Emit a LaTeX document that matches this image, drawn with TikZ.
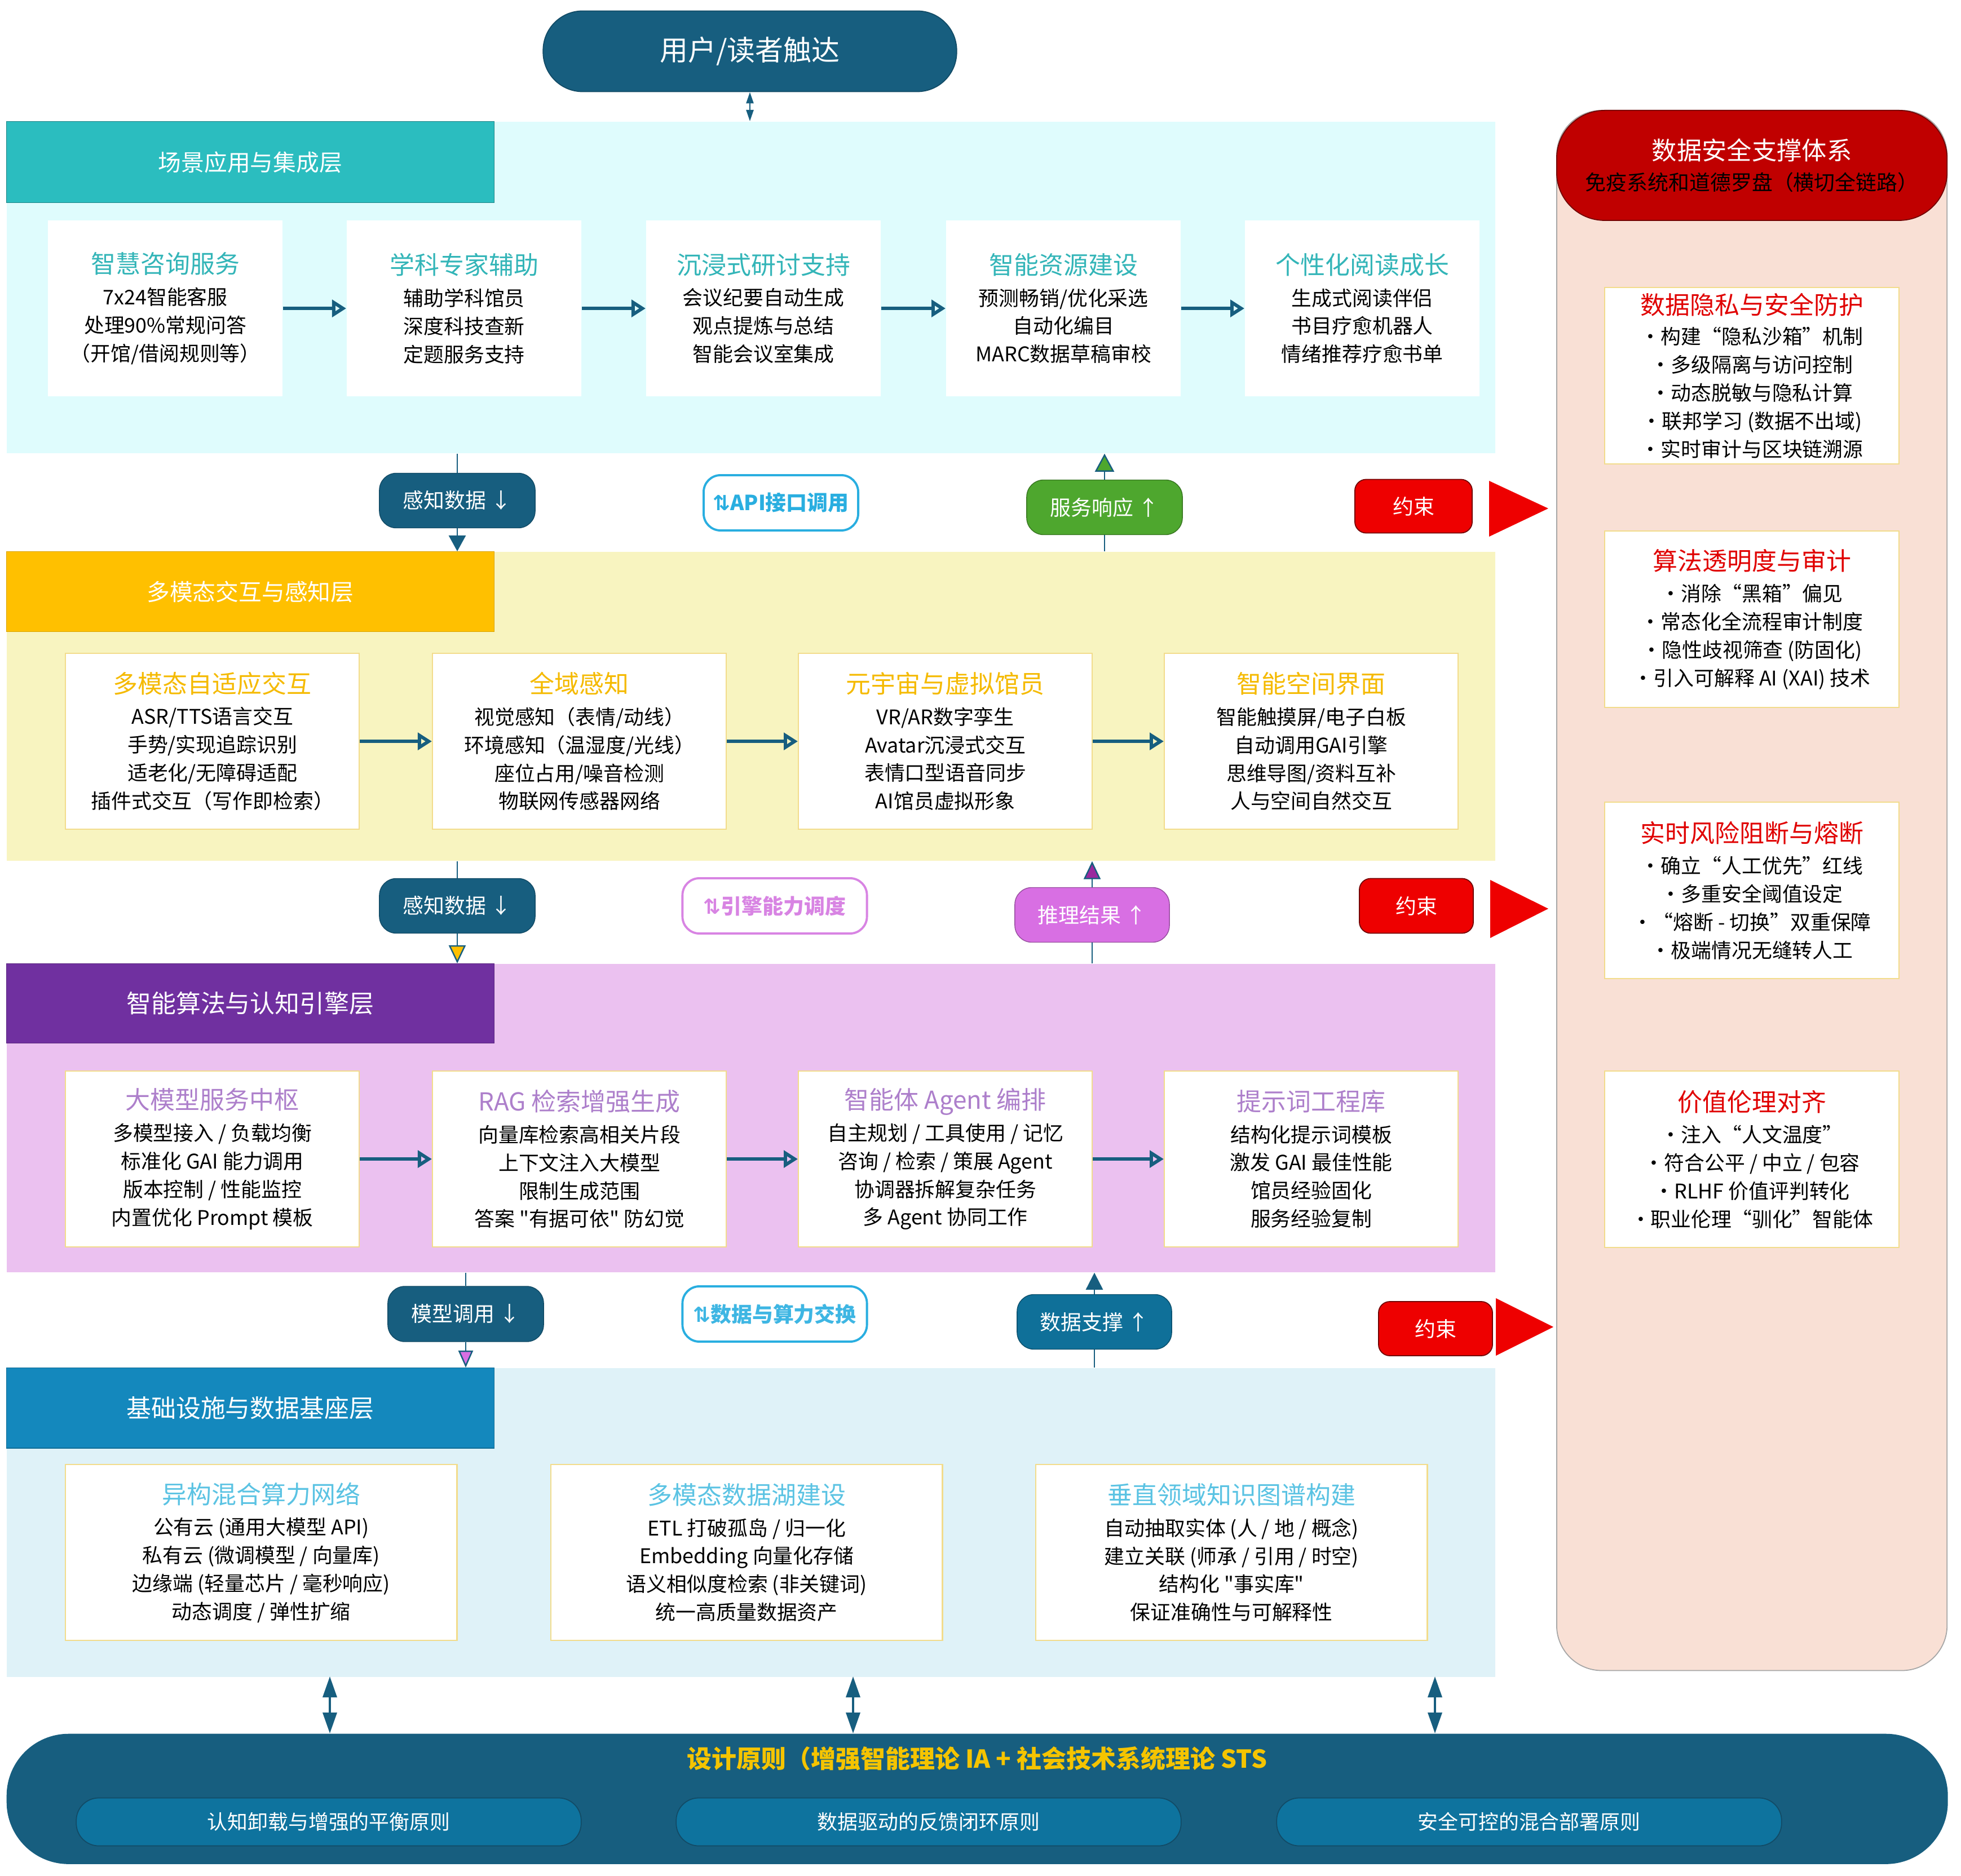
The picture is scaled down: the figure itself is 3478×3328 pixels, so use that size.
\documentclass[tikz,border=0pt]{standalone}
\usepackage{fontspec}
\setmainfont{Noto Sans CJK SC}
\newfontfamily\plainfont{Noto Sans CJK SC}
\newfontfamily\symfont{DejaVu Sans}
\usetikzlibrary{arrows.meta,shapes.geometric,calc}
\definecolor{dteal}{HTML}{175E7F}
\definecolor{lbga}{HTML}{DFFCFD}
\definecolor{lhda}{HTML}{2BBDBF}
\definecolor{ltta}{HTML}{33B5B8}
\definecolor{lbgb}{HTML}{F8F4C0}
\definecolor{lhdb}{HTML}{FFC000}
\definecolor{lttb}{HTML}{F5BA00}
\definecolor{lbgc}{HTML}{EBC1F0}
\definecolor{lhdc}{HTML}{7030A0}
\definecolor{lttc}{HTML}{AD7FCB}
\definecolor{lbgd}{HTML}{DFF2F8}
\definecolor{lhdd}{HTML}{1488BD}
\definecolor{lttd}{HTML}{5BC3E3}
\definecolor{cardbd}{HTML}{F2DC8C}
\definecolor{gpill}{HTML}{4EA72E}
\definecolor{vpill}{HTML}{D86FE3}
\definecolor{varrow}{HTML}{9A2A9E}
\definecolor{bpill}{HTML}{0F7099}
\definecolor{cred}{HTML}{EE0000}
\definecolor{dred}{HTML}{C00000}
\definecolor{pbg}{HTML}{F9E0D5}
\definecolor{ttred}{HTML}{E00000}
\definecolor{apiblue}{HTML}{29AEE0}
\definecolor{engviol}{HTML}{D884E3}
\definecolor{goldt}{HTML}{F5C400}
\definecolor{spill}{HTML}{0E739E}
\newcommand\fsBody{\fontsize{10.2pt}{14.2pt}\selectfont}
\newcommand\fsTitle{\fontsize{12.5pt}{15pt}\selectfont}
\newcommand\fsHead{\fontsize{11.6pt}{14pt}\selectfont}
\newcommand\fsHeadB{\fontsize{12.5pt}{15pt}\selectfont}
\newcommand\fsPill{\fontsize{10.5pt}{13pt}\selectfont}
\newcommand\fsTop{\fontsize{14.2pt}{17pt}\selectfont}
\newcommand\ttl[2]{{\fsTitle\color{#1}#2}}
\newcommand\sqt{{\plainfont "}}
\tikzset{
  layerbg/.style={anchor=north west, inner sep=0pt, minimum width=26.39cm},
  header/.style={anchor=north west, inner sep=0pt, minimum width=8.64cm, text=white, font=\fsHead},
  cardbox/.style={anchor=north west, inner sep=0pt, fill=white, draw=cardbd, line width=0.6pt, align=center, font=\fsBody, minimum height=3.12cm},
  pillbox/.style={rounded corners=0.3cm, inner sep=0pt, text=white, font=\fsPill, minimum width=2.76cm, minimum height=0.97cm},
  outpill/.style={rounded corners=0.3cm, inner sep=0pt, fill=white, line width=1.1pt, font=\fsPill\bfseries, minimum height=0.98cm},
  redbox/.style={rounded corners=0.2cm, inner sep=0pt, fill=cred, draw=dred!60!black, line width=0.5pt, text=white, font=\fsPill, minimum height=0.95cm},
  cardarrow/.style={draw=dteal, line width=1.7pt, -{Triangle[open, length=0.25cm, width=0.3cm]}},
  conn/.style={draw=dteal, line width=0.7pt},
  subpill/.style={rounded corners=0.4cm, inner sep=0pt, fill=spill, draw=dteal!80!black, line width=0.5pt, text=white, font=\fsBody, minimum width=8.95cm, minimum height=0.85cm}
}
\begin{document}
\begin{tikzpicture}[x=0.01cm, y=-0.01cm]
\useasboundingbox (0,0) rectangle (3478,3328);
\fill[white] (0,0) rectangle (3478,3328);

% top pill
\node[rounded corners=0.7cm, fill=dteal, draw=dteal!80!black, line width=0.5pt, text=white, font=\fsTop, minimum width=7.33cm, minimum height=1.43cm, inner sep=0pt] (U) at (1330,91) {用户/读者触达};

% layers
\node[layerbg, fill=lbga, minimum height=5.88cm] (L1) at (11,215) {};
\node[header, fill=lhda, draw=lhda!70!black, line width=0.4pt, minimum height=1.44cm] (H1) at (11,215) {场景应用与集成层};
\node[layerbg, fill=lbgb, minimum height=5.48cm] (L2) at (11,978) {};
\node[header, fill=lhdb, draw=lhdb!85!black, line width=0.4pt, minimum height=1.42cm] (H2) at (11,978) {多模态交互与感知层};
\node[layerbg, fill=lbgc, minimum height=5.47cm] (L3) at (11,1709) {};
\node[header, fill=lhdc, draw=lhdc!80!black, line width=0.4pt, minimum height=1.41cm, font=\fsHeadB] (H3) at (11,1709) {智能算法与认知引擎层};
\node[layerbg, fill=lbgd, minimum height=5.48cm] (L4) at (11,2426) {};
\node[header, fill=lhdd, draw=lhdd!80!black, line width=0.4pt, minimum height=1.42cm, font=\fsHeadB] (H4) at (11,2426) {基础设施与数据基座层};

\draw[conn, {Triangle[length=0.2cm, width=0.13cm]}-{Triangle[length=0.2cm, width=0.13cm]}] (U.south) -- (U.south |- L1.north);

% layer 1 cards
\tikzset{ca/.style={cardbox, draw=none, minimum width=4.16cm}}
\node[ca] (a1) at (84,390) {\ttl{ltta}{智慧咨询服务}\\[1.6pt]7x24智能客服\\处理90\%常规问答\\（开馆/借阅规则等）};
\node[ca] (a2) at (614,390) {\ttl{ltta}{学科专家辅助}\\[1.6pt]辅助学科馆员\\深度科技查新\\定题服务支持};
\node[ca] (a3) at (1145,390) {\ttl{ltta}{沉浸式研讨支持}\\[1.6pt]会议纪要自动生成\\观点提炼与总结\\智能会议室集成};
\node[ca] (a4) at (1677,390) {\ttl{ltta}{智能资源建设}\\[1.6pt]预测畅销/优化采选\\自动化编目\\MARC数据草稿审校};
\node[ca] (a5) at (2207,390) {\ttl{ltta}{个性化阅读成长}\\[1.6pt]生成式阅读伴侣\\书目疗愈机器人\\情绪推荐疗愈书单};
\draw[cardarrow] (a1.east) -- (a2.west);
\draw[cardarrow] (a2.east) -- (a3.west);
\draw[cardarrow] (a3.east) -- (a4.west);
\draw[cardarrow] (a4.east) -- (a5.west);

% layer 2 cards
\tikzset{cb/.style={cardbox, minimum width=5.21cm}}
\node[cb] (b1) at (115,1158) {\ttl{lttb}{多模态自适应交互}\\[1.6pt]ASR/TTS语言交互\\手势/实现追踪识别\\适老化/无障碍适配\\插件式交互（写作即检索）};
\node[cb] (b2) at (766,1158) {\ttl{lttb}{全域感知}\\[1.6pt]视觉感知（表情/动线）\\环境感知（温湿度/光线）\\座位占用/噪音检测\\物联网传感器网络};
\node[cb] (b3) at (1415,1158) {\ttl{lttb}{元宇宙与虚拟馆员}\\[1.6pt]VR/AR数字孪生\\Avatar沉浸式交互\\表情口型语音同步\\AI馆员虚拟形象};
\node[cb] (b4) at (2064,1158) {\ttl{lttb}{智能空间界面}\\[1.6pt]智能触摸屏/电子白板\\自动调用GAI引擎\\思维导图/资料互补\\人与空间自然交互};
\draw[cardarrow] (b1.east) -- (b2.west);
\draw[cardarrow] (b2.east) -- (b3.west);
\draw[cardarrow] (b3.east) -- (b4.west);

% layer 3 cards
\node[cb] (c1) at (115,1899) {\ttl{lttc}{大模型服务中枢}\\[1.6pt]多模型接入 / 负载均衡\\标准化 GAI 能力调用\\版本控制 / 性能监控\\内置优化 Prompt 模板};
\node[cb] (c2) at (766,1899) {\ttl{lttc}{RAG 检索增强生成}\\[1.6pt]向量库检索高相关片段\\上下文注入大模型\\限制生成范围\\答案 \sqt{}有据可依\sqt{} 防幻觉};
\node[cb] (c3) at (1415,1899) {\ttl{lttc}{智能体 Agent 编排}\\[1.6pt]自主规划 / 工具使用 / 记忆\\咨询 / 检索 / 策展 Agent\\协调器拆解复杂任务\\多 Agent 协同工作};
\node[cb] (c4) at (2064,1899) {\ttl{lttc}{提示词工程库}\\[1.6pt]结构化提示词模板\\激发 GAI 最佳性能\\馆员经验固化\\服务经验复制};
\draw[cardarrow] (c1.east) -- (c2.west);
\draw[cardarrow] (c2.east) -- (c3.west);
\draw[cardarrow] (c3.east) -- (c4.west);

% layer 4 cards
\tikzset{cd/.style={cardbox, minimum width=6.94cm}}
\node[cd] (d1) at (115,2597) {\ttl{lttd}{异构混合算力网络}\\[1.6pt]公有云 (通用大模型 API)\\私有云 (微调模型 / 向量库)\\边缘端 (轻量芯片 / 毫秒响应)\\动态调度 / 弹性扩缩};
\node[cd] (d2) at (976,2597) {\ttl{lttd}{多模态数据湖建设}\\[1.6pt]ETL 打破孤岛 / 归一化\\Embedding 向量化存储\\语义相似度检索 (非关键词)\\统一高质量数据资产};
\node[cd] (d3) at (1836,2597) {\ttl{lttd}{垂直领域知识图谱构建}\\[1.6pt]自动抽取实体 (人 / 地 / 概念)\\建立关联 (师承 / 引用 / 时空)\\结构化 \sqt{}事实库\sqt{}\\保证准确性与可解释性};

% between layer 1 and 2
\node[pillbox, fill=dteal, draw=dteal!80!black] (p1) at (811,888) {感知数据 ↓};
\node[outpill, draw=apiblue, text=apiblue, minimum width=2.74cm] (api) at (1385,892) {{\symfont ⇅}API接口调用};
\node[pillbox, fill=gpill, draw=gpill!70!black, minimum width=2.76cm] (g1) at (1959,900) {服务响应 ↑};
\node[redbox, minimum width=2.08cm] (r1) at (2507,898) {约束};
\fill[cred] (2641,853) -- (2746,902) -- (2641,952) -- cycle;
\draw[conn] (p1.north |- L1.south) -- (p1.north);
\draw[conn, -{Triangle[length=0.28cm, width=0.3cm]}] (p1.south) -- (p1.south |- L2.north);
\draw[conn] (g1.south |- L2.north) -- (g1.south);
\draw[conn, -{Triangle[length=0.32cm, width=0.34cm, fill=gpill]}] (g1.north) -- (g1.north |- L1.south);

% between layer 2 and 3
\node[pillbox, fill=dteal, draw=dteal!80!black] (p2) at (811,1607) {感知数据 ↓};
\node[outpill, draw=engviol, text=engviol, minimum width=3.27cm] (eng) at (1374,1607) {{\symfont ⇅}引擎能力调度};
\node[pillbox, fill=vpill, draw=vpill!70!black, minimum width=2.74cm] (v1) at (1937,1623) {推理结果 ↑};
\node[redbox, minimum width=2.02cm, minimum height=0.97cm] (r2) at (2512,1607) {约束};
\fill[cred] (2643,1561) -- (2746,1612) -- (2643,1664) -- cycle;
\draw[conn] (p2.north |- L2.south) -- (p2.north);
\draw[conn, -{Triangle[length=0.32cm, width=0.3cm, fill=lhdb]}] (p2.south) -- (p2.south |- L3.north);
\draw[conn] (v1.south |- L3.north) -- (v1.south);
\draw[conn, -{Triangle[length=0.32cm, width=0.3cm, fill=varrow]}] (v1.north) -- (v1.north |- L2.south);

% between layer 3 and 4
\node[pillbox, fill=dteal, draw=dteal!80!black, minimum height=0.98cm] (p3) at (826,2331) {模型调用 ↓};
\node[outpill, draw=apiblue, text=apiblue!90!white, minimum width=3.27cm] (xch) at (1374,2331) {{\symfont ⇅}数据与算力交换};
\node[pillbox, fill=bpill, draw=bpill!70!black, minimum width=2.74cm] (s1) at (1941,2345) {数据支撑 ↑};
\node[redbox, minimum width=2.02cm, minimum height=0.96cm] (r3) at (2546,2357) {约束};
\fill[cred] (2653,2303) -- (2755,2354) -- (2653,2405) -- cycle;
\draw[conn] (p3.north |- L3.south) -- (p3.north);
\draw[conn, -{Triangle[length=0.3cm, width=0.26cm, fill=vpill]}] (p3.south) -- (p3.south |- L4.north);
\draw[conn] (s1.south |- L4.north) -- (s1.south);
\draw[conn, -{Triangle[length=0.3cm, width=0.3cm]}] (s1.north) -- (s1.north |- L3.south);

% right panel
\node[anchor=north west, inner sep=0pt, fill=pbg, draw=gray!70, line width=0.5pt, rounded corners=0.8cm, minimum width=6.92cm, minimum height=27.66cm] (SP) at (2760,195) {};
\node[anchor=north west, inner sep=0pt, fill=dred, draw=dred!60!black, line width=0.5pt, rounded corners=0.85cm, minimum width=6.92cm, minimum height=1.95cm, align=center, font=\fontsize{10.5pt}{14.2pt}\selectfont] (SH) at (2760,195) {{\fontsize{12.6pt}{15pt}\selectfont\color{white}数据安全支撑体系}\\[1pt]{\color{black}免疫系统和道德罗盘（横切全链路）}};
\tikzset{cr/.style={cardbox, minimum width=5.22cm, minimum height=3.13cm}}
\node[cr] (e1) at (2845,509) {\ttl{ttred}{数据隐私与安全防护}\\[1pt]·构建“隐私沙箱”机制\\·多级隔离与访问控制\\·动态脱敏与隐私计算\\·联邦学习 (数据不出域)\\·实时审计与区块链溯源};
\node[cr] (e2) at (2845,941) {\ttl{ttred}{算法透明度与审计}\\[1.6pt]·消除“黑箱”偏见\\·常态化全流程审计制度\\·隐性歧视筛查 (防固化)\\·引入可解释 AI (XAI) 技术};
\node[cr] (e3) at (2845,1422) {\ttl{ttred}{实时风险阻断与熔断}\\[1.6pt]·确立“人工优先”红线\\·多重安全阈值设定\\·“熔断 - 切换”双重保障\\·极端情况无缝转人工};
\node[cr] (e4) at (2845,1899) {\ttl{ttred}{价值伦理对齐}\\[1.6pt]·注入“人文温度”\\·符合公平 / 中立 / 包容\\·RLHF 价值评判转化\\·职业伦理“驯化”智能体};

% design principles
\node[anchor=north west, inner sep=0pt, fill=dteal, rounded corners=1.1cm, minimum width=34.41cm, minimum height=2.31cm] (DP) at (11,3075) {};
\node[text=goldt, font=\fsTitle\bfseries, inner sep=0pt] (DT) at (1733,3120) {设计原则（增强智能理论 IA + 社会技术系统理论 STS};
\node[subpill] (q1) at (583,3232) {认知卸载与增强的平衡原则};
\node[subpill] (q2) at (1647,3232) {数据驱动的反馈闭环原则};
\node[subpill] (q3) at (2712,3232) {安全可控的混合部署原则};
\coordinate (k1) at (585,2974);
\coordinate (k2) at (1513,2974);
\coordinate (k3) at (2545,2974);
\foreach \k in {k1,k2,k3}
  \draw[conn, line width=1pt, {Triangle[length=0.37cm, width=0.25cm]}-{Triangle[length=0.37cm, width=0.25cm]}] (\k) -- (\k |- DP.north);
\end{tikzpicture}
\end{document}
